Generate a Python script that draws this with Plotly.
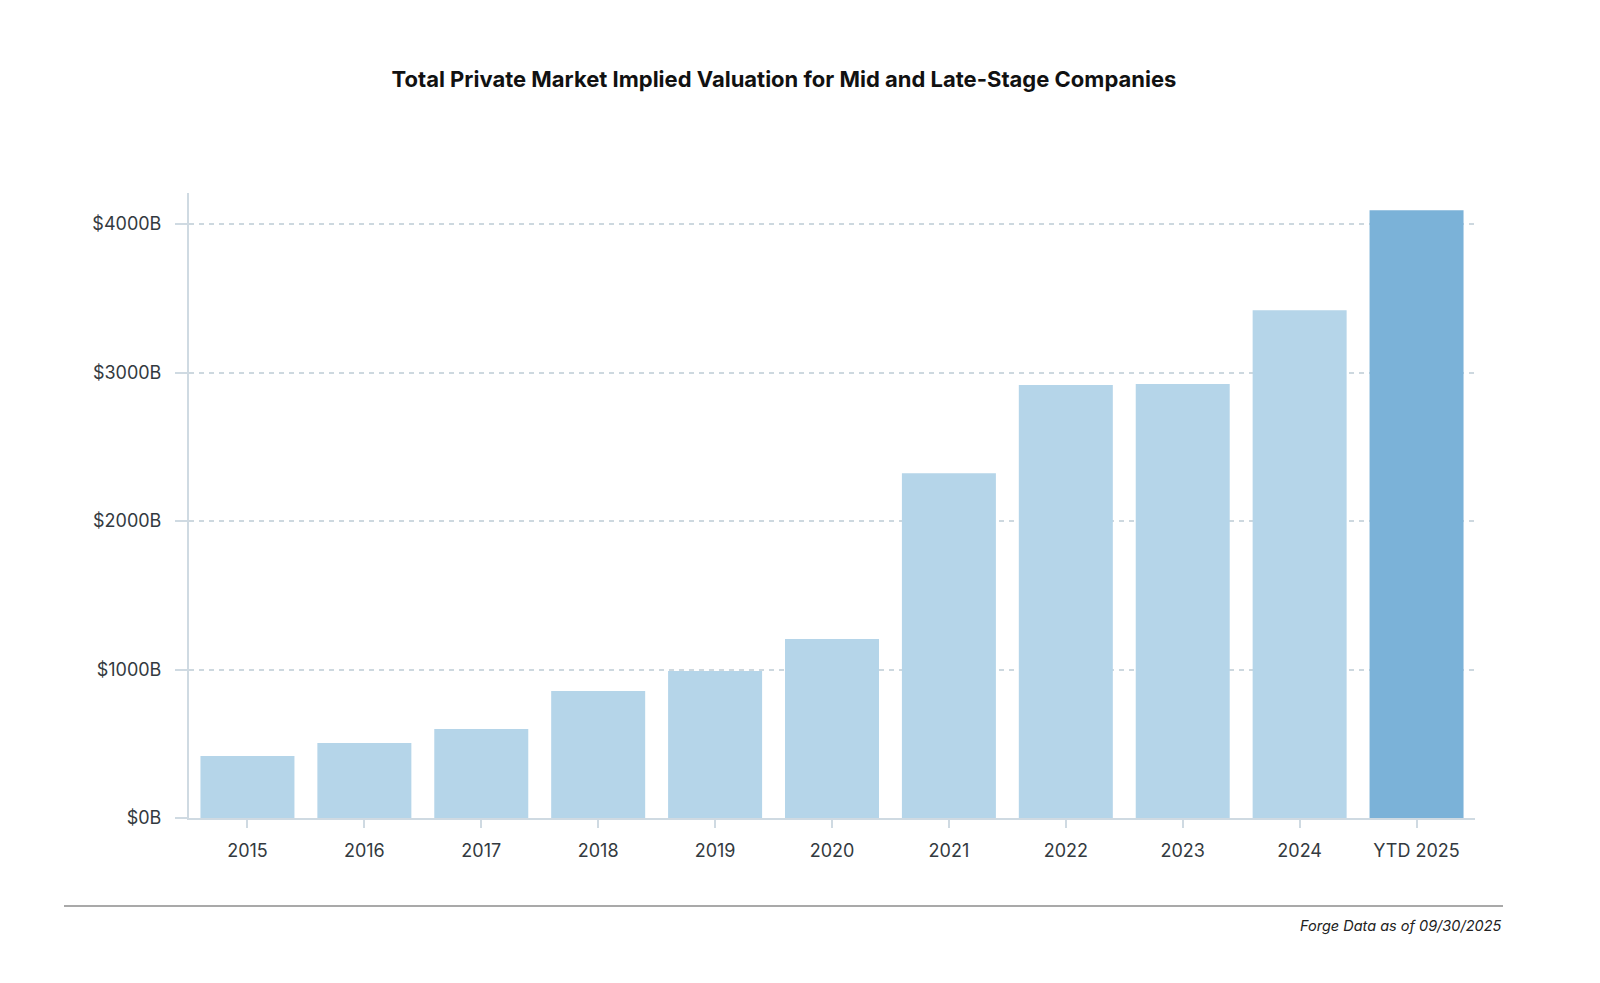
import plotly.graph_objects as go

categories = ["2015", "2016", "2017", "2018", "2019", "2020", "2021", "2022", "2023", "2024", "YTD 2025"]
values = [417, 505, 599, 855, 990, 1205, 2323, 2916, 2923, 3421, 4094]
tick_vals = [0, 1000, 2000, 3000, 4000]
tick_text = ["$0B", "$1000B", "$2000B", "$3000B", "$4000B"]

colors = ["#b5d5e9"] * (len(categories) - 1) + ["#7bb2d8"]

fig = go.Figure(go.Bar(x=categories, y=values, marker=dict(color=colors, line=dict(width=0)), hoverinfo="x+y"))

fig.update_layout(
    width=1592, height=975,
    paper_bgcolor="white", plot_bgcolor="white",
    margin=dict(l=181, r=125, t=185, b=165),
    bargap=0.196,
    showlegend=False,
    font=dict(family="Inter, Roboto, sans-serif", color="#333a40", size=18),
    title=dict(text="<b>Total Private Market Implied Valuation for Mid and Late-Stage Companies</b>",
               x=0.4874, xanchor="center", y=0.927, yanchor="middle",
               font=dict(size=22, color="#111111")),
    xaxis=dict(showline=True, linecolor="#cfdae2", linewidth=2, ticks="outside", ticklen=8,
               tickcolor="#cfdae2", tickwidth=2, showgrid=False, ticklabelstandoff=7,
               tickfont=dict(size=18, color="#333a40")),
    yaxis=dict(range=[0, 4210], tickvals=tick_vals, ticktext=tick_text, showline=True,
               linecolor="#cfdae2", linewidth=2, ticks="outside", ticklen=12, tickcolor="#cfdae2",
               tickwidth=2, showgrid=True, gridcolor="#cdd8df", griddash="5px,5px", gridwidth=1.5,
               zeroline=False, ticklabelstandoff=10, tickfont=dict(size=18, color="#333a40")),
    shapes=[dict(type="line", xref="paper", yref="paper", x0=-0.0972, x1=1.0218, y0=-0.1408, y1=-0.1408,
                 line=dict(color="#555555", width=1.2))],
    annotations=[dict(text="<i>Forge Data as of 09/30/2025</i>", xref="paper", yref="paper",
                      x=1.0218, y=-0.1728, xanchor="right", yanchor="middle", showarrow=False,
                      font=dict(size=14.5, color="#222222"))],
)

fig.write_html("out.html")
